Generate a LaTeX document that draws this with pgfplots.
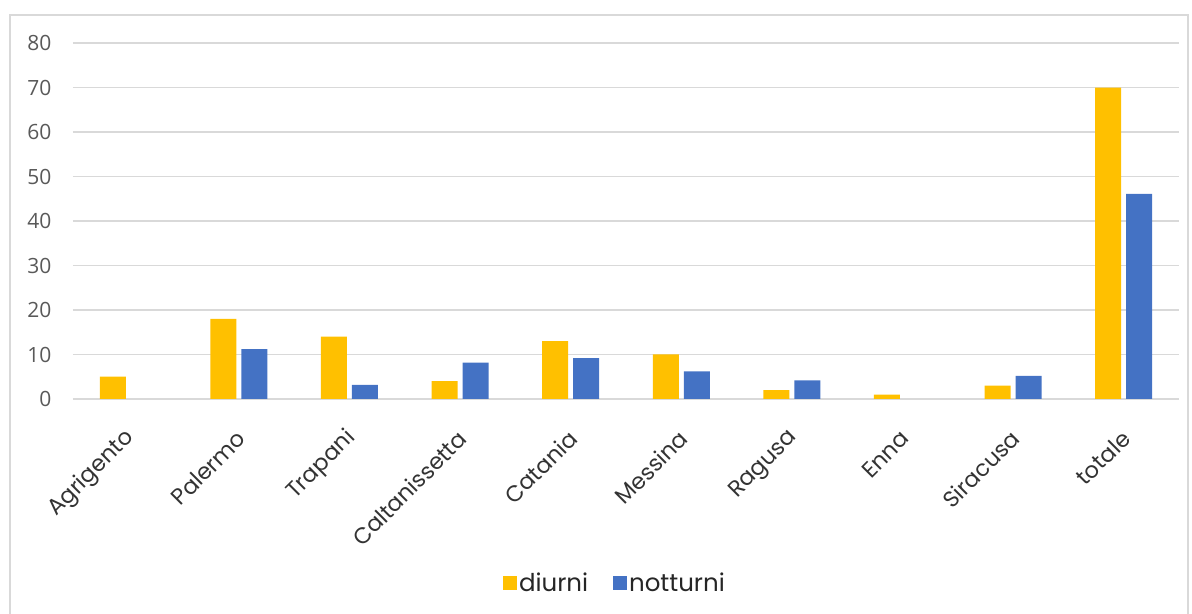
\documentclass[border=0pt]{standalone}
\usepackage{pgfplots}
\pgfplotsset{compat=1.18}
\usepackage{fontspec}
\setmainfont{Open Sans}
\newfontfamily\legfont{Poppins}
\definecolor{cyel}{HTML}{FFC000}
\definecolor{cblu}{HTML}{4472C4}
\definecolor{cgrid}{HTML}{D9D9D9}
\definecolor{ctick}{HTML}{595959}
\definecolor{ccat}{HTML}{333333}
\begin{document}
\begin{tikzpicture}[x=1bp,y=1bp]
\begin{axis}[
  name=ax,
  at={(0,0)}, anchor=south west,
  scale only axis, width=1106bp, height=356bp,
  xmin=-0.5, xmax=9.5, ymin=0, ymax=80,
  ytick={0,10,...,80},
  xtick={0,...,9},
  xticklabels={Agrigento,Palermo,Trapani,Caltanissetta,Catania,Messina,Ragusa,Enna,Siracusa,totale},
  ybar=5bp, bar width=26bp,
  ymajorgrids, grid style={cgrid, line width=1.8bp},
  axis line style={draw=none},
  major tick length=0pt,
  /pgf/number format/assume math mode=true,
  yticklabel style={font=\fontsize{21bp}{23bp}\selectfont, text=ctick, xshift=-18bp},
  xticklabel style={font=\legfont\fontsize{22.5bp}{25bp}\selectfont, text=ccat, rotate=45, anchor=east, xshift=-20bp, yshift=-27bp},
  legend style={at={(0.49,-0.517)}, anchor=center, draw=none, legend columns=2,
    font=\legfont\fontsize{24.5bp}{26bp}\selectfont, text=black!85,
    /tikz/every even column/.append style={column sep=23bp}},
  legend image code/.code={\fill[#1] (-6bp,-7bp) rectangle (8bp,7bp);},
]
\addplot[fill=cyel, draw=none] coordinates {(0,5) (1,18) (2,14) (3,4) (4,13) (5,10) (6,2) (7,1) (8,3) (9,70)};
\addplot[fill=cblu, draw=none] coordinates {(1,11.2) (2,3.2) (3,8.2) (4,9.2) (5,6.2) (6,4.2) (8,5.2) (9,46.1)};
\legend{diurni,notturni}
\end{axis}
\pgfresetboundingbox
\path[use as bounding box, shift={(ax.south west)}] (-73,-215) rectangle (1119,399);
\draw[cgrid, line width=1.5bp, shift={(ax.south west)}] (-63,-216) -- (-63,384) -- (1115,384) -- (1115,-216);
\end{tikzpicture}
\end{document}
